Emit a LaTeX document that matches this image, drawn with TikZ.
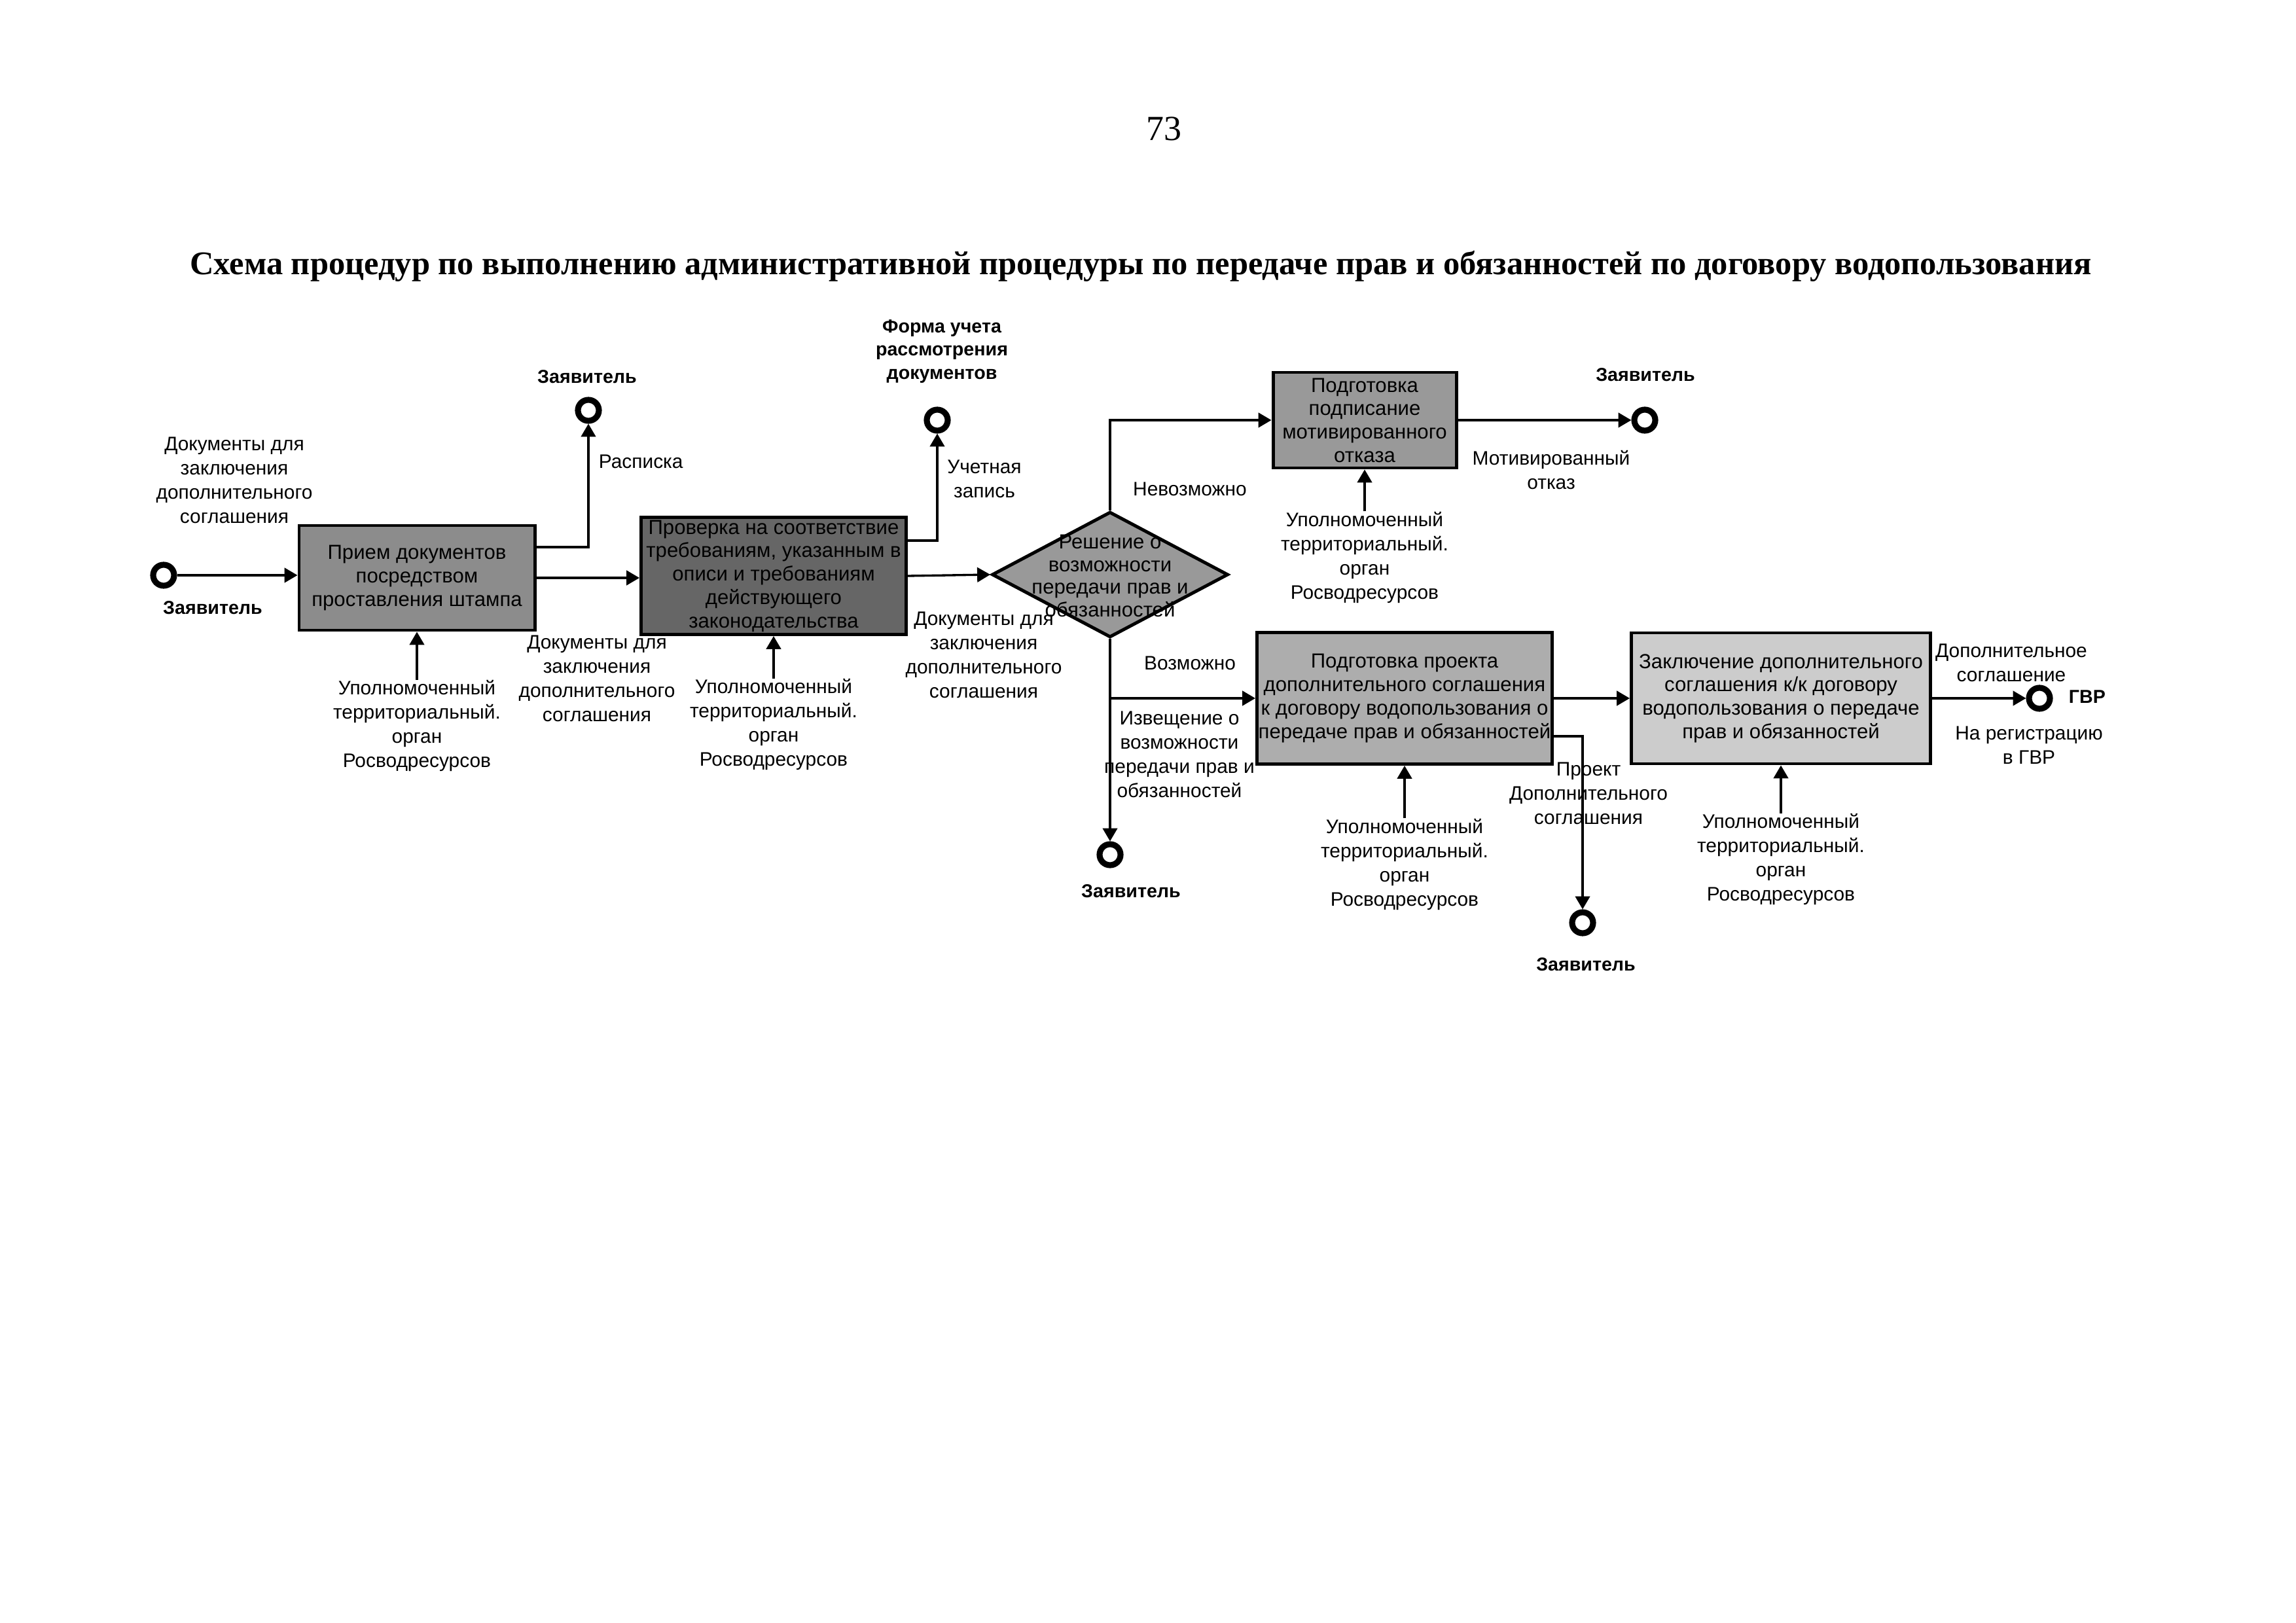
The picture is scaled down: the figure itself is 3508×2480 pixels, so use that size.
\documentclass[tikz,border=0pt]{standalone}
\usepackage{fontspec}
\setmainfont{Liberation Sans}
\newfontfamily\titlefont{Liberation Serif}
\usetikzlibrary{arrows.meta,positioning,shapes.geometric}
\newlength\pxu
\setlength\pxu{0.084667mm}

\begin{document}
\begin{tikzpicture}[x=\pxu,y=-\pxu,
    lbl/.style={font=\fontsize{7.2}{8.9}\selectfont,align=center,inner sep=0pt},
    actor/.style={font=\bfseries\fontsize{6.9}{8.6}\selectfont,align=center,inner sep=0pt},
    procbox/.style={draw,line width=1.2pt,align=center,inner sep=0pt,font=\fontsize{7.5}{8.6}\selectfont},
    terminal/.style={draw,circle,line width=2.2pt,minimum size=32\pxu,inner sep=0pt,fill=white},
    flow/.style={line width=0.8pt,-{Triangle[length=4.8pt,width=5.4pt]}}]
  \useasboundingbox (0,0) rectangle (3508,2480);
  % heading
  \node[font=\titlefont\fontsize{13}{15}\selectfont] (pagenum) at (1778,197) {73};
  \node[font=\titlefont\bfseries\fontsize{12.17}{14}\selectfont] (title) at (1743,407)
    {Схема процедур по выполнению административной процедуры по передаче прав и обязанностей по договору водопользования};
  % process boxes
  \node[procbox,fill=black!45,minimum width=360\pxu,minimum height=160\pxu] (recv) at (637,883)
    {Прием документов\\посредством\\проставления штампа};
  \node[procbox,fill=black!60,minimum width=405\pxu,minimum height=179\pxu] (check) at (1182,880)
    {Проверка на соответствие\\требованиям, указанным в\\описи и требованиям\\действующего\\законодательства};
  \node[draw,diamond,line width=1.2pt,fill=black!40,minimum width=361\pxu,minimum height=192\pxu,inner sep=0pt] (decide) at (1696,878) {};
  \node[font=\fontsize{7.5}{8.3}\selectfont,align=center,inner sep=0pt] (decidetxt) at (1696,880)
    {Решение о\\возможности\\передачи прав и\\обязанностей};
  \node[procbox,fill=black!40,minimum width=280\pxu,minimum height=146\pxu] (refuse) at (2085,642)
    {Подготовка\\подписание\\мотивированного\\отказа};
  \node[procbox,fill=black!32,minimum width=451\pxu,minimum height=201\pxu] (draft) at (2146,1067)
    {Подготовка проекта\\дополнительного соглашения\\к договору водопользования о\\передаче прав и обязанностей};
  \node[procbox,fill=black!20,minimum width=457\pxu,minimum height=200\pxu] (conclude) at (2721,1067)
    {Заключение дополнительного\\соглашения к/к договору\\водопользования о передаче\\прав и обязанностей};
  % applicant and register circles
  \node[terminal] (appin) at (250,879) {};
  \node[terminal] (apprcpt) at (899,627) {};
  \node[terminal] (regform) at (1432,642) {};
  \node[terminal] (appref) at (2513,642) {};
  \node[terminal] (appnote) at (1696,1306) {};
  \node[terminal] (appdraft) at (2418,1410) {};
  \node[terminal] (gvr) at (3116,1067) {};
  \node[actor] (appinlbl) at (325,929) {Заявитель};
  \node[actor] (apprcptlbl) at (897,576) {Заявитель};
  \node[actor] (regformlbl) at (1439,537) {Форма учета\\рассмотрения\\документов};
  \node[actor] (appreflbl) at (2514,573) {Заявитель};
  \node[actor] (appnotelbl) at (1728,1362) {Заявитель};
  \node[actor] (appdraftlbl) at (2423,1474) {Заявитель};
  \node[actor,anchor=west] (gvrlbl) at (3160,1065) {ГВР};
  % flow labels
  \node[lbl] (docsin) at (358,734) {Документы для\\заключения\\дополнительного\\соглашения};
  \node[lbl,anchor=west] (rcpt) at (914,705) {Расписка};
  \node[lbl] (docsmid) at (912,1037) {Документы для\\заключения\\дополнительного\\соглашения};
  \node[lbl] (record) at (1504,732) {Учетная\\запись};
  \node[lbl] (docsout) at (1503,1001) {Документы для\\заключения\\дополнительного\\соглашения};
  \node[lbl] (noway) at (1818,747) {Невозможно};
  \node[lbl] (okway) at (1818,1013) {Возможно};
  \node[lbl] (notice) at (1802,1153) {Извещение о\\возможности\\передачи прав и\\обязанностей};
  \node[lbl] (refusal) at (2370,718) {Мотивированный\\отказ};
  \node[lbl] (draftdoc) at (2427,1212) {Проект\\Дополнительного\\соглашения};
  \node[lbl] (agreement) at (3073,1013) {Дополнительное\\соглашение};
  \node[lbl] (toreg) at (3100,1139) {На регистрацию\\в ГВР};
  % executing body under each step
  \node[lbl,below=6.2mm of recv] (org1) {Уполномоченный\\территориальный.\\орган\\Росводресурсов};
  \node[lbl,below=5.5mm of check] (org2) {Уполномоченный\\территориальный.\\орган\\Росводресурсов};
  \node[lbl,below=5.4mm of refuse] (org3) {Уполномоченный\\территориальный.\\орган\\Росводресурсов};
  \node[lbl,below=6.8mm of draft] (org4) {Уполномоченный\\территориальный.\\орган\\Росводресурсов};
  \node[lbl,below=6.2mm of conclude] (org5) {Уполномоченный\\территориальный.\\орган\\Росводресурсов};
  \foreach \o/\b in {org1/recv,org2/check,org3/refuse,org4/draft,org5/conclude}
    { \draw[flow] (\o) -- (\b); }
  % connectors
  \draw[flow] (appin) -- (appin -| recv.west);
  \draw[flow] (recv.east) -- (recv.east -| check.west);
  \draw[flow] ([yshift=47\pxu]recv.east) -| (apprcpt);
  \draw[flow] ([yshift=54\pxu]check.east) -| (regform);
  \draw[flow] (check.east) -- (decide.west);
  \draw[flow] (decide.north) |- (refuse.west);
  \draw[flow] (refuse.east) -- (appref);
  \draw[flow] (decide.south) -- (appnote);
  \draw[flow] (decide.south |- draft.west) -- (draft.west);
  \draw[flow] (draft.east) -- (conclude.west);
  \draw[flow] ([yshift=-58\pxu]draft.east) -| (appdraft);
  \draw[flow] (conclude.east) -- (gvr);
\end{tikzpicture}
\end{document}
